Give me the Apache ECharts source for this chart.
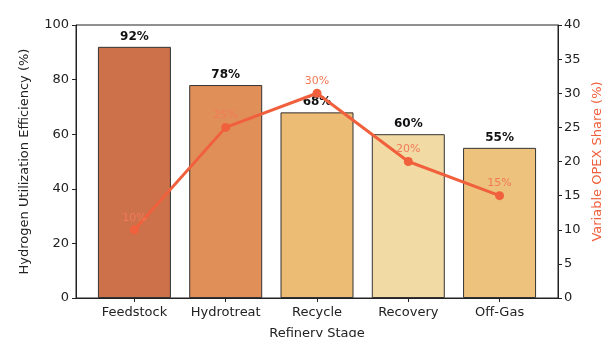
<!DOCTYPE html>
<html>
<head>
<meta charset="utf-8">
<script src="https://cdn.jsdelivr.net/npm/echarts@6/dist/echarts.min.js"></script>
<style>
  html, body { margin: 0; padding: 0; background: #fff; }
  #chart { width: 602px; height: 337px; }
</style>
</head>
<body>
<div id="chart"></div>
<script>
  // data
  const stages = ['Feedstock', 'Hydrotreat', 'Recycle', 'Recovery', 'Off-Gas'];
  const efficiency = [92, 78, 68, 60, 55];
  const opexShare = [10, 25, 30, 20, 15];
  const barColors = ['#cc714a', '#e18f58', '#ecbb74', '#f2daa4', '#ecc27c'];
  const stageIdx = [0, 1, 2, 3, 4];

  const font = 'DejaVu Sans';
  const lineColor = '#f0603c';

  let chart = echarts.init(document.getElementById('chart'), null, {renderer: 'canvas'});
  let option = {
    animation: false,
    textStyle: {fontFamily: font},
    grid: {
      left: 76, right: 44, top: 25, bottom: 39,
      outerBoundsMode: 'none',
      containLabel: false,
      show: true, borderColor: '#222', borderWidth: 1
    },
    xAxis: {
      type: 'value',
      min: -0.64,
      max: 4.64,
      name: 'Refinery Stage',
      nameLocation: 'middle',
      nameGap: 29,
      nameTextStyle: {fontSize: 13, color: '#222', fontFamily: font},
      splitLine: {show: false},
      axisLine: {show: true, onZero: false, lineStyle: {color: '#222'}},
      axisTick: {show: true, customValues: stageIdx, length: 4, lineStyle: {color: '#222'}},
      axisLabel: {
        customValues: stageIdx,
        formatter: v => stages[Math.round(v)],
        fontSize: 13, color: '#222', margin: 8, fontFamily: font
      }
    },
    yAxis: [
      {
        type: 'value',
        min: 0, max: 100, interval: 20,
        name: 'Hydrogen Utilization Efficiency (%)',
        nameLocation: 'middle',
        nameGap: 45,
        nameTextStyle: {fontSize: 13, color: '#222', fontFamily: font},
        splitLine: {show: false},
        axisLine: {show: true, onZero: false, lineStyle: {color: '#222'}},
        axisTick: {show: true, length: 4, lineStyle: {color: '#222'}},
        axisLabel: {fontSize: 13, color: '#222', margin: 7, fontFamily: font}
      },
      {
        type: 'value',
        min: 0, max: 40, interval: 5,
        position: 'right',
        name: 'Variable OPEX Share (%)',
        nameLocation: 'middle',
        nameGap: 31,
        nameRotate: 90,
        nameTextStyle: {fontSize: 13, color: lineColor, fontFamily: font},
        splitLine: {show: false},
        axisLine: {show: true, onZero: false, lineStyle: {color: '#222'}},
        axisTick: {show: true, length: 4, lineStyle: {color: '#222'}},
        axisLabel: {fontSize: 13, color: '#222', margin: 6, fontFamily: font}
      }
    ],
    series: [
      {
        type: 'bar',
        barWidth: 73,
        data: efficiency.map((v, i) => ({
          value: [i, v],
          itemStyle: {color: barColors[i], borderColor: '#333', borderWidth: 1}
        })),
        label: {
          show: true,
          position: 'top',
          distance: 4,
          formatter: p => p.value[1] + '%',
          fontSize: 12, fontWeight: 'bold', color: '#111', fontFamily: font
        },
        z: 2
      },
      {
        type: 'line',
        yAxisIndex: 1,
        data: opexShare.map((v, i) => [i, v]),
        lineStyle: {color: lineColor, width: 3},
        itemStyle: {color: lineColor},
        symbol: 'circle',
        symbolSize: 9,
        label: {
          show: true,
          position: 'top',
          distance: 2,
          formatter: p => p.value[1] + '%',
          fontSize: 11, color: '#f27a58', fontFamily: font
        },
        z: 5
      }
    ]
  };
  chart.setOption(option);
</script>
</body>
</html>
